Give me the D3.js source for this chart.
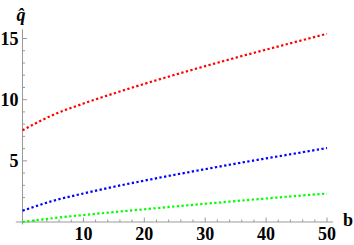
<!DOCTYPE html>
<html><head><meta charset="utf-8">
<script src="https://cdn.jsdelivr.net/npm/d3@7"></script>
<style>body{margin:0;background:#fff}svg{display:block}</style>
</head><body>
<svg id="c" width="354" height="245"></svg>
<script>
const bValues = [0,5,10,15,20,25,30,35,40,45,50];
const redSeries = [7.5,8.75,9.68,10.51,11.29,12.03,12.74,13.43,14.09,14.74,15.39];
const blueSeries = [0.92,1.73,2.33,2.88,3.38,3.86,4.32,4.77,5.20,5.62,6.05];
const greenSeries = [0,0.31,0.57,0.81,1.04,1.27,1.49,1.71,1.92,2.13,2.33];
const xTicks = [10,20,30,40,50];
const yTicks = [5,10,15];
const xLabel = "b";
const yLabel = "q\u0302";

const svg = d3.select("#c");
const x = d3.scaleLinear().domain([0,50]).range([22.5,327]);
const y = d3.scaleLinear().domain([0,15]).range([222,38.5]);
const axisColor = "#999";
const font = "'Liberation Serif','Times New Roman',serif";

// axis lines
svg.append("line").attr("x1",x(-1.1)).attr("x2",x(51)).attr("y1",y(0)).attr("y2",y(0))
  .attr("stroke",axisColor).attr("stroke-width",1);
svg.append("line").attr("x1",x(0)).attr("x2",x(0)).attr("y1",y(-0.2)).attr("y2",y(15.75))
  .attr("stroke",axisColor).attr("stroke-width",1);

// x ticks
const xMinor = d3.range(2,51,2).filter(v=>v%10!==0);
xMinor.forEach(v=>svg.append("line").attr("x1",x(v)).attr("x2",x(v)).attr("y1",y(0)).attr("y2",y(0)-2.5).attr("stroke",axisColor));
xTicks.forEach(v=>{
  svg.append("line").attr("x1",x(v)).attr("x2",x(v)).attr("y1",y(0)).attr("y2",y(0)-4.5).attr("stroke",axisColor);
  svg.append("text").attr("x",x(v)).attr("y",y(0)+18).attr("text-anchor","middle")
    .attr("font-family",font).attr("font-weight","bold").attr("font-size",18).text(v);
});
// y ticks
d3.range(1,16).filter(v=>v%5!==0).forEach(v=>svg.append("line").attr("x1",x(0)).attr("x2",x(0)+2.5).attr("y1",y(v)).attr("y2",y(v)).attr("stroke",axisColor));
yTicks.forEach(v=>{
  svg.append("line").attr("x1",x(0)).attr("x2",x(0)+4.5).attr("y1",y(v)).attr("y2",y(v)).attr("stroke",axisColor);
  svg.append("text").attr("x",x(0)-4).attr("y",y(v)+6).attr("text-anchor","end")
    .attr("font-family",font).attr("font-weight","bold").attr("font-size",18).text(v);
});

// labels
svg.append("text").attr("x",343).attr("y",226).attr("font-family",font).attr("font-weight","bold").attr("font-size",18).text(xLabel);
svg.append("text").attr("x",16.5).attr("y",21).attr("font-family",font).attr("font-weight","bold").attr("font-style","italic").attr("font-size",18).text(yLabel);

// curves
const line = d3.line().x((d,i)=>x(bValues[i])).y(d=>y(d)).curve(d3.curveMonotoneX);
[[redSeries,"#ff0000"],[blueSeries,"#0000ff"],[greenSeries,"#00ff00"]].forEach(([s,c])=>{
  svg.append("path").attr("d",line(s)).attr("fill","none").attr("stroke",c)
    .attr("stroke-width",2.2).attr("stroke-dasharray","2.3,2.4");
});
</script>
</body></html>
